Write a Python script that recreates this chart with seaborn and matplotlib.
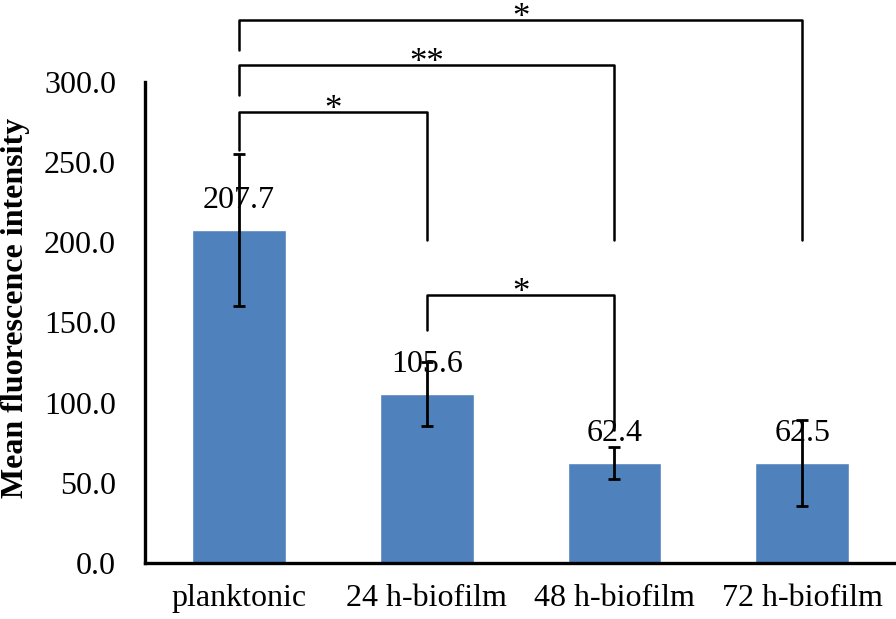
import numpy as np
import pandas as pd
import matplotlib
matplotlib.use("Agg")
import matplotlib.pyplot as plt
import seaborn as sns

# Data
groups = ["planktonic", "24 h-biofilm", "48 h-biofilm", "72 h-biofilm"]
mean_intensity = [207.7, 105.6, 62.4, 62.5]
sd_intensity = [47.5, 19.9, 9.8, 26.8]

# Significance brackets: (left group, right group, bar height, left leg end, right leg end, label)
brackets = [
    (0, 1, 281.3, 257.6, 201.5, "*"),
    (0, 2, 310.7, 292.0, 201.5, "**"),
    (0, 3, 338.7, 320.0, 201.5, "*"),
    (1, 2, 167.2, 145.4, 83.0, "*"),
]

sns.set_style("white")
plt.rcParams['font.family'] = ['Liberation Serif', 'DejaVu Serif']
for key in ["text.color", "axes.labelcolor", "xtick.color", "ytick.color"]:
    plt.rcParams[key] = "black"

df = pd.DataFrame({"group": groups, "mean": mean_intensity, "sd": sd_intensity})

fig = plt.figure(figsize=(8.96, 6.19), dpi=100)
ax = fig.add_axes([0.162, 0.0905, 0.838, 0.777])

sns.barplot(data=df, x="group", y="mean", color="#4F81BD", saturation=1,
            width=0.5, errorbar=None, ax=ax)
ax.errorbar(np.arange(len(groups)), df["mean"], yerr=df["sd"], fmt="none",
            ecolor="black", elinewidth=2, capsize=4.5, capthick=2, zorder=5)

# value labels above each bar
for i, v in enumerate(mean_intensity):
    ax.annotate(f"{v:.1f}", (i, v), xytext=(0, 21), textcoords="offset points",
                ha="center", va="center", fontsize=23, zorder=6)

# significance brackets
for a, b, h, la, lb, lab in brackets:
    ax.plot([a, a, b, b], [la, h, h, lb], color="black", lw=1.8,
            clip_on=False, zorder=4)
    ax.annotate(lab, ((a + b) / 2, h), xytext=(0, -5), textcoords="offset points",
                ha="center", va="baseline", fontsize=25, annotation_clip=False)

ax.set_xlim(-0.5, 3.5)
ax.set_ylim(0, 300)
ax.set_yticks(np.arange(0, 301, 50))
ax.yaxis.set_major_formatter(matplotlib.ticker.FormatStrFormatter("%.1f"))

ax.set_xlabel("")
ax.set_ylabel("Mean fluorescence intensity", fontsize=23, fontweight="bold")
ax.yaxis.set_label_coords(-0.153, 0.53)

for side in ["top", "right"]:
    ax.spines[side].set_visible(False)
for side in ["left", "bottom"]:
    ax.spines[side].set_linewidth(2.4)
    ax.spines[side].set_color("black")

ax.tick_params(axis="y", direction="in", length=6, width=2.4, labelsize=23, pad=21)
ax.tick_params(axis="x", length=0, labelsize=23, pad=15)

fig.savefig("out.png", dpi=100)
